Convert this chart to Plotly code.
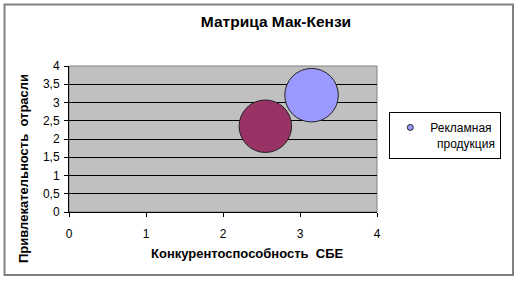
import plotly.graph_objects as go

title = "Матрица Мак-Кензи"
x_title = "Конкурентоспособность  СБЕ"
y_title = "Привлекательность  отрасли"
series_name = "Рекламная<br>&nbsp;&nbsp;продукция"

# bubbles: competitiveness (x), attractiveness (y), bubble size
x_vals = [3.15, 2.55]
y_vals = [3.2, 2.35]
sizes = [10.2, 10.0]
colors = ["#9999FF", "#993366"]

x_ticks = [0, 1, 2, 3, 4]
y_ticks = [0, 0.5, 1, 1.5, 2, 2.5, 3, 3.5, 4]
y_tick_labels = ["0", "0,5", "1", "1,5", "2", "2,5", "3", "3,5", "4"]

FONT = "Arial, Liberation Sans, sans-serif"
SIZEREF = 10 / 52.5

fig = go.Figure()
fig.add_trace(go.Scatter(
    x=x_vals, y=y_vals, mode="markers", name=series_name,
    marker=dict(size=sizes, sizemode="diameter", sizeref=SIZEREF,
                color=colors, line=dict(color="#222222", width=1), opacity=1),
    showlegend=False,
))
# legend entry (small symbol like the original)
fig.add_trace(go.Scatter(
    x=[None], y=[None], mode="markers", name=series_name,
    marker=dict(size=6, color=colors[0], line=dict(color="#222222", width=1)),
    showlegend=True,
))

fig.update_layout(
    width=520, height=282,
    margin=dict(l=69, r=143, t=66, b=70),
    paper_bgcolor="white",
    plot_bgcolor="#C0C0C0",
    font=dict(family=FONT, size=12, color="black"),
    showlegend=True,
    legend=dict(x=1.04, xanchor="left", y=0.523, yanchor="middle",
                bordercolor="black", borderwidth=1, bgcolor="white",
                font=dict(family=FONT, size=12), valign="top",
                itemwidth=30, tracegroupgap=0),
    title=dict(text="<b>" + title + "</b>", x=276 / 520, xanchor="center",
               y=1 - 22 / 282, yanchor="middle",
               font=dict(family=FONT, size=15.5)),
)

fig.update_xaxes(
    range=[0, 4], tickvals=x_ticks, ticktext=[str(v) for v in x_ticks],
    showgrid=False, zeroline=False, showline=True, linecolor="black", linewidth=1,
    ticks="outside", ticklen=4, tickcolor="black", ticklabelstandoff=7,
    tickfont=dict(family=FONT, size=12), fixedrange=True,
)
fig.update_yaxes(
    range=[0, 4], tickvals=y_ticks, ticktext=y_tick_labels,
    showgrid=True, gridcolor="black", gridwidth=1, zeroline=False,
    showline=True, linecolor="black", linewidth=1,
    ticks="outside", ticklen=4, tickcolor="black", ticklabelstandoff=2,
    tickfont=dict(family=FONT, size=12), fixedrange=True,
)

# plot-area border (gray) and outer chart frame
fig.add_shape(type="rect", xref="paper", yref="paper", x0=0, x1=1, y0=0, y1=1,
              line=dict(color="#808080", width=1), layer="below")
fig.add_shape(type="rect", xref="paper", yref="paper",
              x0=(4.5 - 69) / 308, x1=(513 - 69) / 308,
              y0=(282 - 275 - 70) / 146, y1=(282 - 4.5 - 70) / 146,
              line=dict(color="#808080", width=2))

fig.add_annotation(text="<b>" + x_title + "</b>", xref="paper", yref="paper",
                   x=(247 - 69) / 308, y=(282 - 253 - 70) / 146,
                   xanchor="center", yanchor="middle", showarrow=False,
                   font=dict(family=FONT, size=13))
fig.add_annotation(text="<b>" + y_title + "</b>", xref="paper", yref="paper",
                   x=(23 - 69) / 308, y=(282 - 169 - 70) / 146, textangle=-90,
                   xanchor="center", yanchor="middle", showarrow=False,
                   font=dict(family=FONT, size=13))

fig.write_html("out.html")
